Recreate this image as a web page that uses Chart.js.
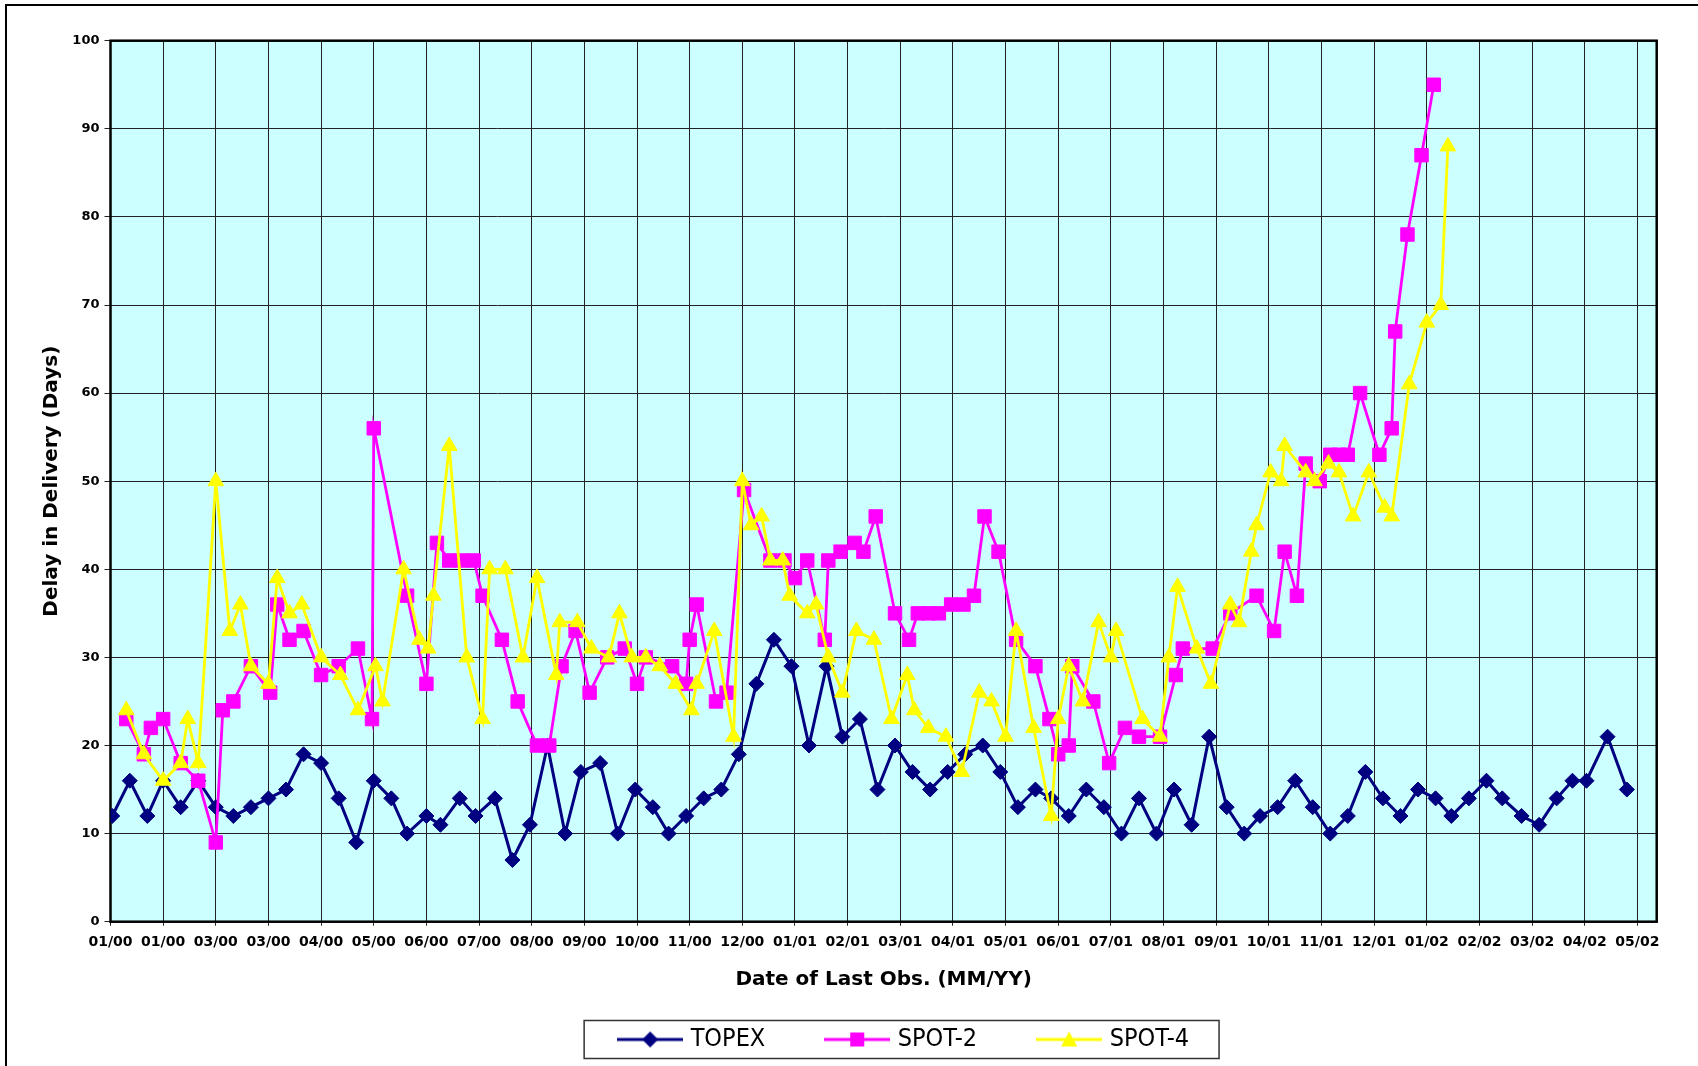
<!DOCTYPE html>
<html>
<head>
<meta charset="utf-8">
<title>Delay in Delivery</title>
<script src="https://cdn.jsdelivr.net/npm/chart.js@4.4.1/dist/chart.umd.min.js"></script>
<style>
  html, body { margin: 0; padding: 0; background: #fff; }
  #wrap { position: relative; width: 1698px; height: 1066px; overflow: hidden; }
  #frame {
    position: absolute; left: 5px; top: 4px; right: -10px; bottom: -10px;
    border-left: 2px solid #000; border-top: 2px solid #000;
    pointer-events: none;
  }
</style>
</head>
<body>
<div id="wrap">
  <canvas id="delayChart" width="1698" height="1066"></canvas>
  <div id="frame"></div>
</div>
<script>
// x values are days since 01/01/2000, date labels every 30 days (Excel style)
const xTickLabels = ['01/00', '01/00', '03/00', '03/00', '04/00', '05/00', '06/00', '07/00', '08/00', '09/00',
    '10/00', '11/00', '12/00', '01/01', '02/01', '03/01', '04/01', '05/01', '06/01', '07/01',
    '08/01', '09/01', '10/01', '11/01', '12/01', '01/02', '02/02', '03/02', '04/02', '05/02'];
const TICK_STEP = 30;
const X_MAX = 881;

const topexDays = [1, 11, 21, 30, 40, 50, 60, 70, 80, 90, 100, 110, 120, 130, 140, 150, 160, 169, 180, 188,
    199, 208, 219, 229, 239, 249, 259, 268, 279, 289, 299, 309, 318, 328, 338, 348, 358, 368, 378, 388,
    398, 408, 417, 427, 437, 447, 457, 467, 477, 487, 497, 507, 517, 527, 536, 546, 556, 566, 576, 586,
    596, 606, 616, 626, 636, 646, 655, 665, 675, 685, 695, 705, 715, 725, 735, 745, 755, 764, 774, 784,
    793, 804, 814, 824, 833, 841, 853, 864];
const topexDelay = [12, 16, 12, 16, 13, 16, 13, 12, 13, 14, 15, 19, 18, 14, 9, 16, 14, 10, 12, 11,
    14, 12, 14, 7, 11, 20, 10, 17, 18, 10, 15, 13, 10, 12, 14, 15, 19, 27, 32, 29,
    20, 29, 21, 23, 15, 20, 17, 15, 17, 19, 20, 17, 13, 15, 14, 12, 15, 13, 10, 14,
    10, 15, 11, 21, 13, 10, 12, 13, 16, 13, 10, 12, 17, 14, 12, 15, 14, 12, 14, 16,
    14, 12, 11, 14, 16, 16, 21, 15];

const spot2Days = [9, 19, 23, 30, 40, 50, 60, 64, 70, 80, 91, 95, 102, 110, 120, 130, 141, 149, 150, 169,
    180, 186, 193, 200, 207, 212, 223, 232, 243, 250, 257, 265, 273, 283, 293, 300, 305, 320, 328, 330,
    334, 345, 351, 361, 376, 384, 390, 397, 407, 409, 416, 424, 429, 436, 447, 455, 460, 466, 472, 479,
    486, 492, 498, 506, 516, 527, 535, 540, 546, 548, 560, 569, 578, 586, 598, 607, 611, 628, 638, 653,
    663, 669, 676, 681, 689, 695, 700, 705, 712, 723, 730, 732, 739, 747, 754];
const spot2Delay = [23, 19, 22, 23, 18, 16, 9, 24, 25, 29, 26, 36, 32, 33, 28, 29, 31, 23, 56, 37,
    27, 43, 41, 41, 41, 37, 32, 25, 20, 20, 29, 33, 26, 30, 31, 27, 30, 29, 27, 32,
    36, 25, 26, 49, 41, 41, 39, 41, 32, 41, 42, 43, 42, 46, 35, 32, 35, 35, 35, 36,
    36, 37, 46, 42, 32, 29, 23, 19, 20, 29, 25, 18, 22, 21, 21, 28, 31, 31, 35, 37,
    33, 42, 37, 52, 50, 53, 53, 53, 60, 53, 56, 67, 78, 87, 95];

const spot4Days = [9, 19, 30, 40, 44, 50, 60, 68, 74, 80, 90, 95, 102, 109, 120, 131, 141, 151, 155, 167,
    176, 181, 184, 193, 203, 212, 216, 225, 235, 243, 254, 256, 266, 274, 284, 290, 297, 305, 313, 322,
    331, 334, 344, 355, 360, 365, 371, 376, 383, 387, 397, 402, 409, 417, 425, 435, 445, 454, 458, 466,
    476, 485, 495, 502, 510, 516, 526, 536, 540, 546, 554, 563, 570, 573, 588, 598, 603, 608, 619, 627,
    638, 643, 650, 653, 661, 667, 669, 681, 686, 694, 700, 708, 717, 726, 730, 740, 750, 758, 762];
const spot4Delay = [24, 19, 16, 18, 23, 18, 50, 33, 36, 29, 27, 39, 35, 36, 30, 28, 24, 29, 25, 40,
    32, 31, 37, 54, 30, 23, 40, 40, 30, 39, 28, 34, 34, 31, 30, 35, 30, 30, 29, 27,
    24, 27, 33, 21, 50, 45, 46, 41, 41, 37, 35, 36, 30, 26, 33, 32, 23, 28, 24, 22,
    21, 17, 26, 25, 21, 33, 22, 12, 23, 29, 25, 34, 30, 33, 23, 21, 30, 38, 31, 27,
    36, 34, 42, 45, 51, 50, 54, 51, 50, 52, 51, 46, 51, 47, 46, 61, 68, 70, 88];

const seriesNames = ['TOPEX', 'SPOT-2', 'SPOT-4'];
const seriesColors = ['#000080', '#ff00ff', '#ffff00'];

document.addEventListener('DOMContentLoaded', () => {
    initializeChart();
});

function toPoints(days, values) {
    return days.map((d, i) => ({ x: d, y: values[i] }));
}

// Small "line + marker" picture for the legend, like Excel draws it
function legendIcon(color, shape) {
    const c = document.createElement('canvas');
    c.width = 66;
    c.height = 22;
    const ctx = c.getContext('2d');
    ctx.strokeStyle = color;
    ctx.lineWidth = 3;
    ctx.beginPath();
    ctx.moveTo(0, 11);
    ctx.lineTo(66, 11);
    ctx.stroke();
    ctx.fillStyle = color;
    ctx.beginPath();
    if (shape === 'diamond') {
        ctx.moveTo(33, 3); ctx.lineTo(41, 11); ctx.lineTo(33, 19); ctx.lineTo(25, 11);
    } else if (shape === 'square') {
        ctx.rect(26, 4, 14, 14);
    } else {
        ctx.moveTo(33, 3); ctx.lineTo(41, 18); ctx.lineTo(25, 18);
    }
    ctx.closePath();
    ctx.fill();
    return c;
}

const plotFrame = {
    id: 'plotFrame',
    beforeDraw(chart) {
        const { ctx, chartArea: a } = chart;
        ctx.save();
        ctx.fillStyle = '#ccffff';
        ctx.fillRect(a.left, a.top, a.width, a.height);
        ctx.restore();
    },
    beforeDatasetsDraw(chart) {
        const { ctx, chartArea: a } = chart;
        ctx.save();
        ctx.strokeStyle = '#000';
        ctx.lineWidth = 2.5;
        ctx.strokeRect(a.left, a.top, a.width, a.height);
        ctx.restore();
    }
};

const legendBox = {
    id: 'legendBox',
    afterLayout(chart) {
        // legend sits a bit right of the plot centre in the original
        chart.legend.left = chart.chartArea.left + 22;
        chart.legend.right = chart.chartArea.right + 22;
    },
    afterDraw(chart) {
        const boxes = chart.legend.legendHitBoxes;
        if (!boxes || !boxes.length) return;
        const first = boxes[0];
        const last = boxes[boxes.length - 1];
        const cy = first.top + first.height / 2;
        const left = first.left - 38;
        const right = last.left + last.width + 30;
        const ctx = chart.ctx;
        ctx.save();
        ctx.strokeStyle = '#333';
        ctx.lineWidth = 1.5;
        ctx.strokeRect(left, cy - 19, right - left, 38);
        ctx.restore();
    }
};

function initializeChart() {
    const icons = [legendIcon(seriesColors[0], 'diamond'), legendIcon(seriesColors[1], 'square'), legendIcon(seriesColors[2], 'triangle')];
    const tickFont = { family: 'DejaVu Sans', weight: 'bold' };
    const titleFont = { family: 'DejaVu Sans', weight: 'bold', size: 20 };

    const ctx = document.getElementById('delayChart').getContext('2d');
    new Chart(ctx, {
        type: 'line',
        data: {
            datasets: [
                {
                    label: seriesNames[0],
                    data: toPoints(topexDays, topexDelay),
                    borderColor: seriesColors[0],
                    backgroundColor: seriesColors[0],
                    borderWidth: 3,
                    pointStyle: 'rectRot',
                    pointRadius: 7.5,
                    pointBorderWidth: 1,
                    order: 3
                },
                {
                    label: seriesNames[1],
                    data: toPoints(spot2Days, spot2Delay),
                    borderColor: seriesColors[1],
                    backgroundColor: seriesColors[1],
                    borderWidth: 2.8,
                    pointStyle: 'rect',
                    pointRadius: 9.5,
                    pointBorderWidth: 1,
                    order: 2
                },
                {
                    label: seriesNames[2],
                    data: toPoints(spot4Days, spot4Delay),
                    borderColor: seriesColors[2],
                    backgroundColor: seriesColors[2],
                    borderWidth: 2.8,
                    pointStyle: 'triangle',
                    pointRadius: 9,
                    pointBorderWidth: 1,
                    order: 1
                }
            ]
        },
        options: {
            responsive: false,
            animation: false,
            layout: { padding: { top: 40.7, right: 41.3, bottom: 4, left: 0 } },
            scales: {
                x: {
                    type: 'linear',
                    min: 0,
                    max: X_MAX,
                    afterFit: (scale) => { scale.height = 41.3; },
                    border: { display: false },
                    grid: { color: '#222', lineWidth: 1, tickLength: 4, drawTicks: true },
                    ticks: {
                        stepSize: TICK_STEP,
                        includeBounds: false,
                        autoSkip: false,
                        maxRotation: 0,
                        padding: 8,
                        color: '#000',
                        font: { ...tickFont, size: 14 },
                        callback: (value) => xTickLabels[Math.round(value / TICK_STEP)]
                    },
                    title: {
                        display: true,
                        text: 'Date of Last Obs. (MM/YY)',
                        color: '#000',
                        font: titleFont,
                        padding: { top: 0, bottom: -29 }
                    }
                },
                y: {
                    min: 0,
                    max: 100,
                    afterFit: (scale) => { scale.width = 110.5; },
                    border: { display: false },
                    grid: { color: '#222', lineWidth: 1, tickLength: 6, drawTicks: true },
                    ticks: {
                        stepSize: 10,
                        padding: 5,
                        color: '#000',
                        font: { ...tickFont, size: 13 }
                    },
                    title: {
                        display: true,
                        text: 'Delay in Delivery (Days)',
                        color: '#000',
                        font: titleFont,
                        padding: { top: 39.5, bottom: 0 }
                    }
                }
            },
            plugins: {
                tooltip: { enabled: false },
                legend: {
                    position: 'bottom',
                    fullSize: false,
                    labels: {
                        usePointStyle: true,
                        pointStyleWidth: 56,
                        padding: 64,
                        color: '#000',
                        font: { family: "'Liberation Sans Narrow', 'DejaVu Sans Condensed', sans-serif", size: 25 },
                        sort: (a, b) => a.datasetIndex - b.datasetIndex,
                        generateLabels: (chart) => {
                            const items = Chart.defaults.plugins.legend.labels.generateLabels(chart);
                            items.forEach(item => { item.pointStyle = icons[item.datasetIndex]; });
                            return items;
                        }
                    }
                }
            }
        },
        plugins: [plotFrame, legendBox]
    });
}
</script>
</body>
</html>
